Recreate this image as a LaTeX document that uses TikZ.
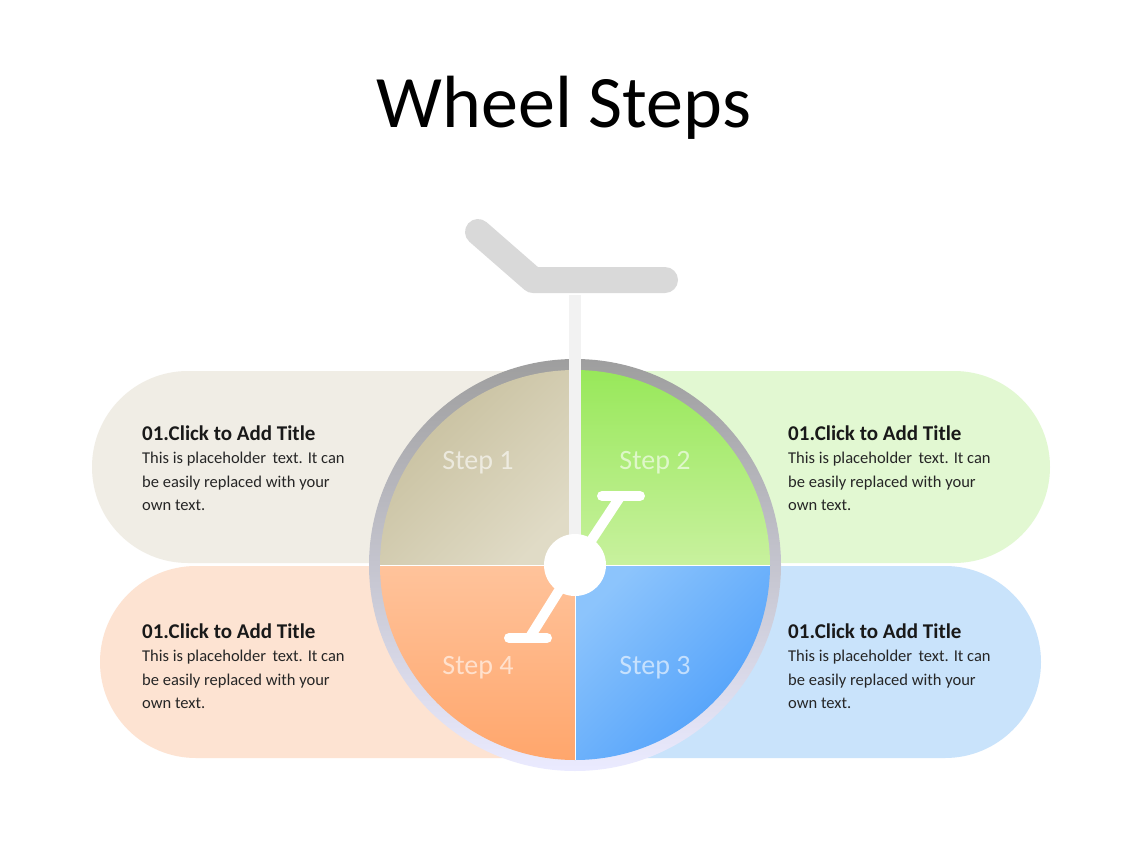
\documentclass[tikz,border=0pt]{standalone}
\usepackage{fontspec}
\setmainfont{Carlito}
\begin{document}
\begin{tikzpicture}[x=1pt,y=-1pt,
  ttl/.style={anchor=base west,inner sep=0pt,font=\fontsize{21}{24}\selectfont\bfseries,text=black!90},
  body/.style={anchor=north west,inner sep=0pt,align=left,font=\fontsize{16.5}{23.5}\selectfont,text=black!85},
  steplbl/.style={font=\fontsize{28}{32}\selectfont,text=white,opacity=0.6},
  crank/.style={line width=10pt,white,line cap=round}]
\useasboundingbox (0,0) rectangle (1128,846);
\fill[white] (0,0) rectangle (1128,846);
\definecolor{pTL}{HTML}{F0EDE5}\definecolor{pTR}{HTML}{E2F8D2}
\definecolor{pBL}{HTML}{FDE3D2}\definecolor{pBR}{HTML}{C9E3FB}
\definecolor{q1a}{HTML}{C6BE9C}\definecolor{q1b}{HTML}{E0DBC6}
\definecolor{q2a}{HTML}{98E85A}\definecolor{q2b}{HTML}{C8F19E}
\definecolor{q3a}{HTML}{4C9EFA}\definecolor{q3b}{HTML}{8CC4FC}
\definecolor{q4a}{HTML}{FFA66C}\definecolor{q4b}{HTML}{FFC39B}
\node (title) at (564,108) {\fontsize{74}{80}\selectfont Wheel Steps};
% pills
\fill[pTL,rounded corners=96pt] (92,371) rectangle (620,563);
\fill[pTR,rounded corners=96pt] (530,371) rectangle (1050,563);
\fill[pBL,rounded corners=96pt] (100,566) rectangle (620,758);
\fill[pBR,rounded corners=96pt] (530,566) rectangle (1041,758);
% seat
\draw[line width=26pt,color=black!15,line cap=round,line join=round] (478,232) -- (533,280) -- (665,280);
% ring
\shade[top color=black!38,bottom color=blue!8!white] (575,565) circle (206);
% quadrants
\shade[left color=q1a,right color=q1b,shading angle=45] (575,565) -- (380,565) arc[start angle=180,end angle=270,radius=195] -- cycle;
\shade[top color=q2a,bottom color=q2b] (575,565) -- (575,370) arc[start angle=270,end angle=360,radius=195] -- cycle;
\shade[left color=q3b,right color=q3a,shading angle=45] (575,565) -- (770,565) arc[start angle=0,end angle=90,radius=195] -- cycle;
\shade[top color=q4b,bottom color=q4a] (575,565) -- (575,760) arc[start angle=90,end angle=180,radius=195] -- cycle;
\draw[white,line width=1pt] (380,565) -- (770,565) (575,565) -- (575,760);
% post
\fill[black!5] (569,295) rectangle (581,565);
% cranks
\draw[crank] (575,565) -- (620,497);
\draw[crank] (602,496) -- (640,496);
\draw[crank] (575,565) -- (530,637);
\draw[crank] (509,638) -- (547,638);
\fill[white] (575,565) circle (31);
% labels
\node[steplbl] (s1) at (478,463) {Step 1};
\node[steplbl] (s2) at (655,463) {Step 2};
\node[steplbl] (s3) at (655,668) {Step 3};
\node[steplbl] (s4) at (478,668) {Step 4};
% texts
\foreach \n/\x/\y in {a/142/440,b/788/440,c/142/638,d/788/638}{
  \node[ttl] (t\n) at (\x,\y) {01.Click to Add Title};
  \node[body] (b\n) at (\x,\y+12) {This is placeholder\, text. It can\\be easily replaced with your\\own text.};
}
\end{tikzpicture}
\end{document}
